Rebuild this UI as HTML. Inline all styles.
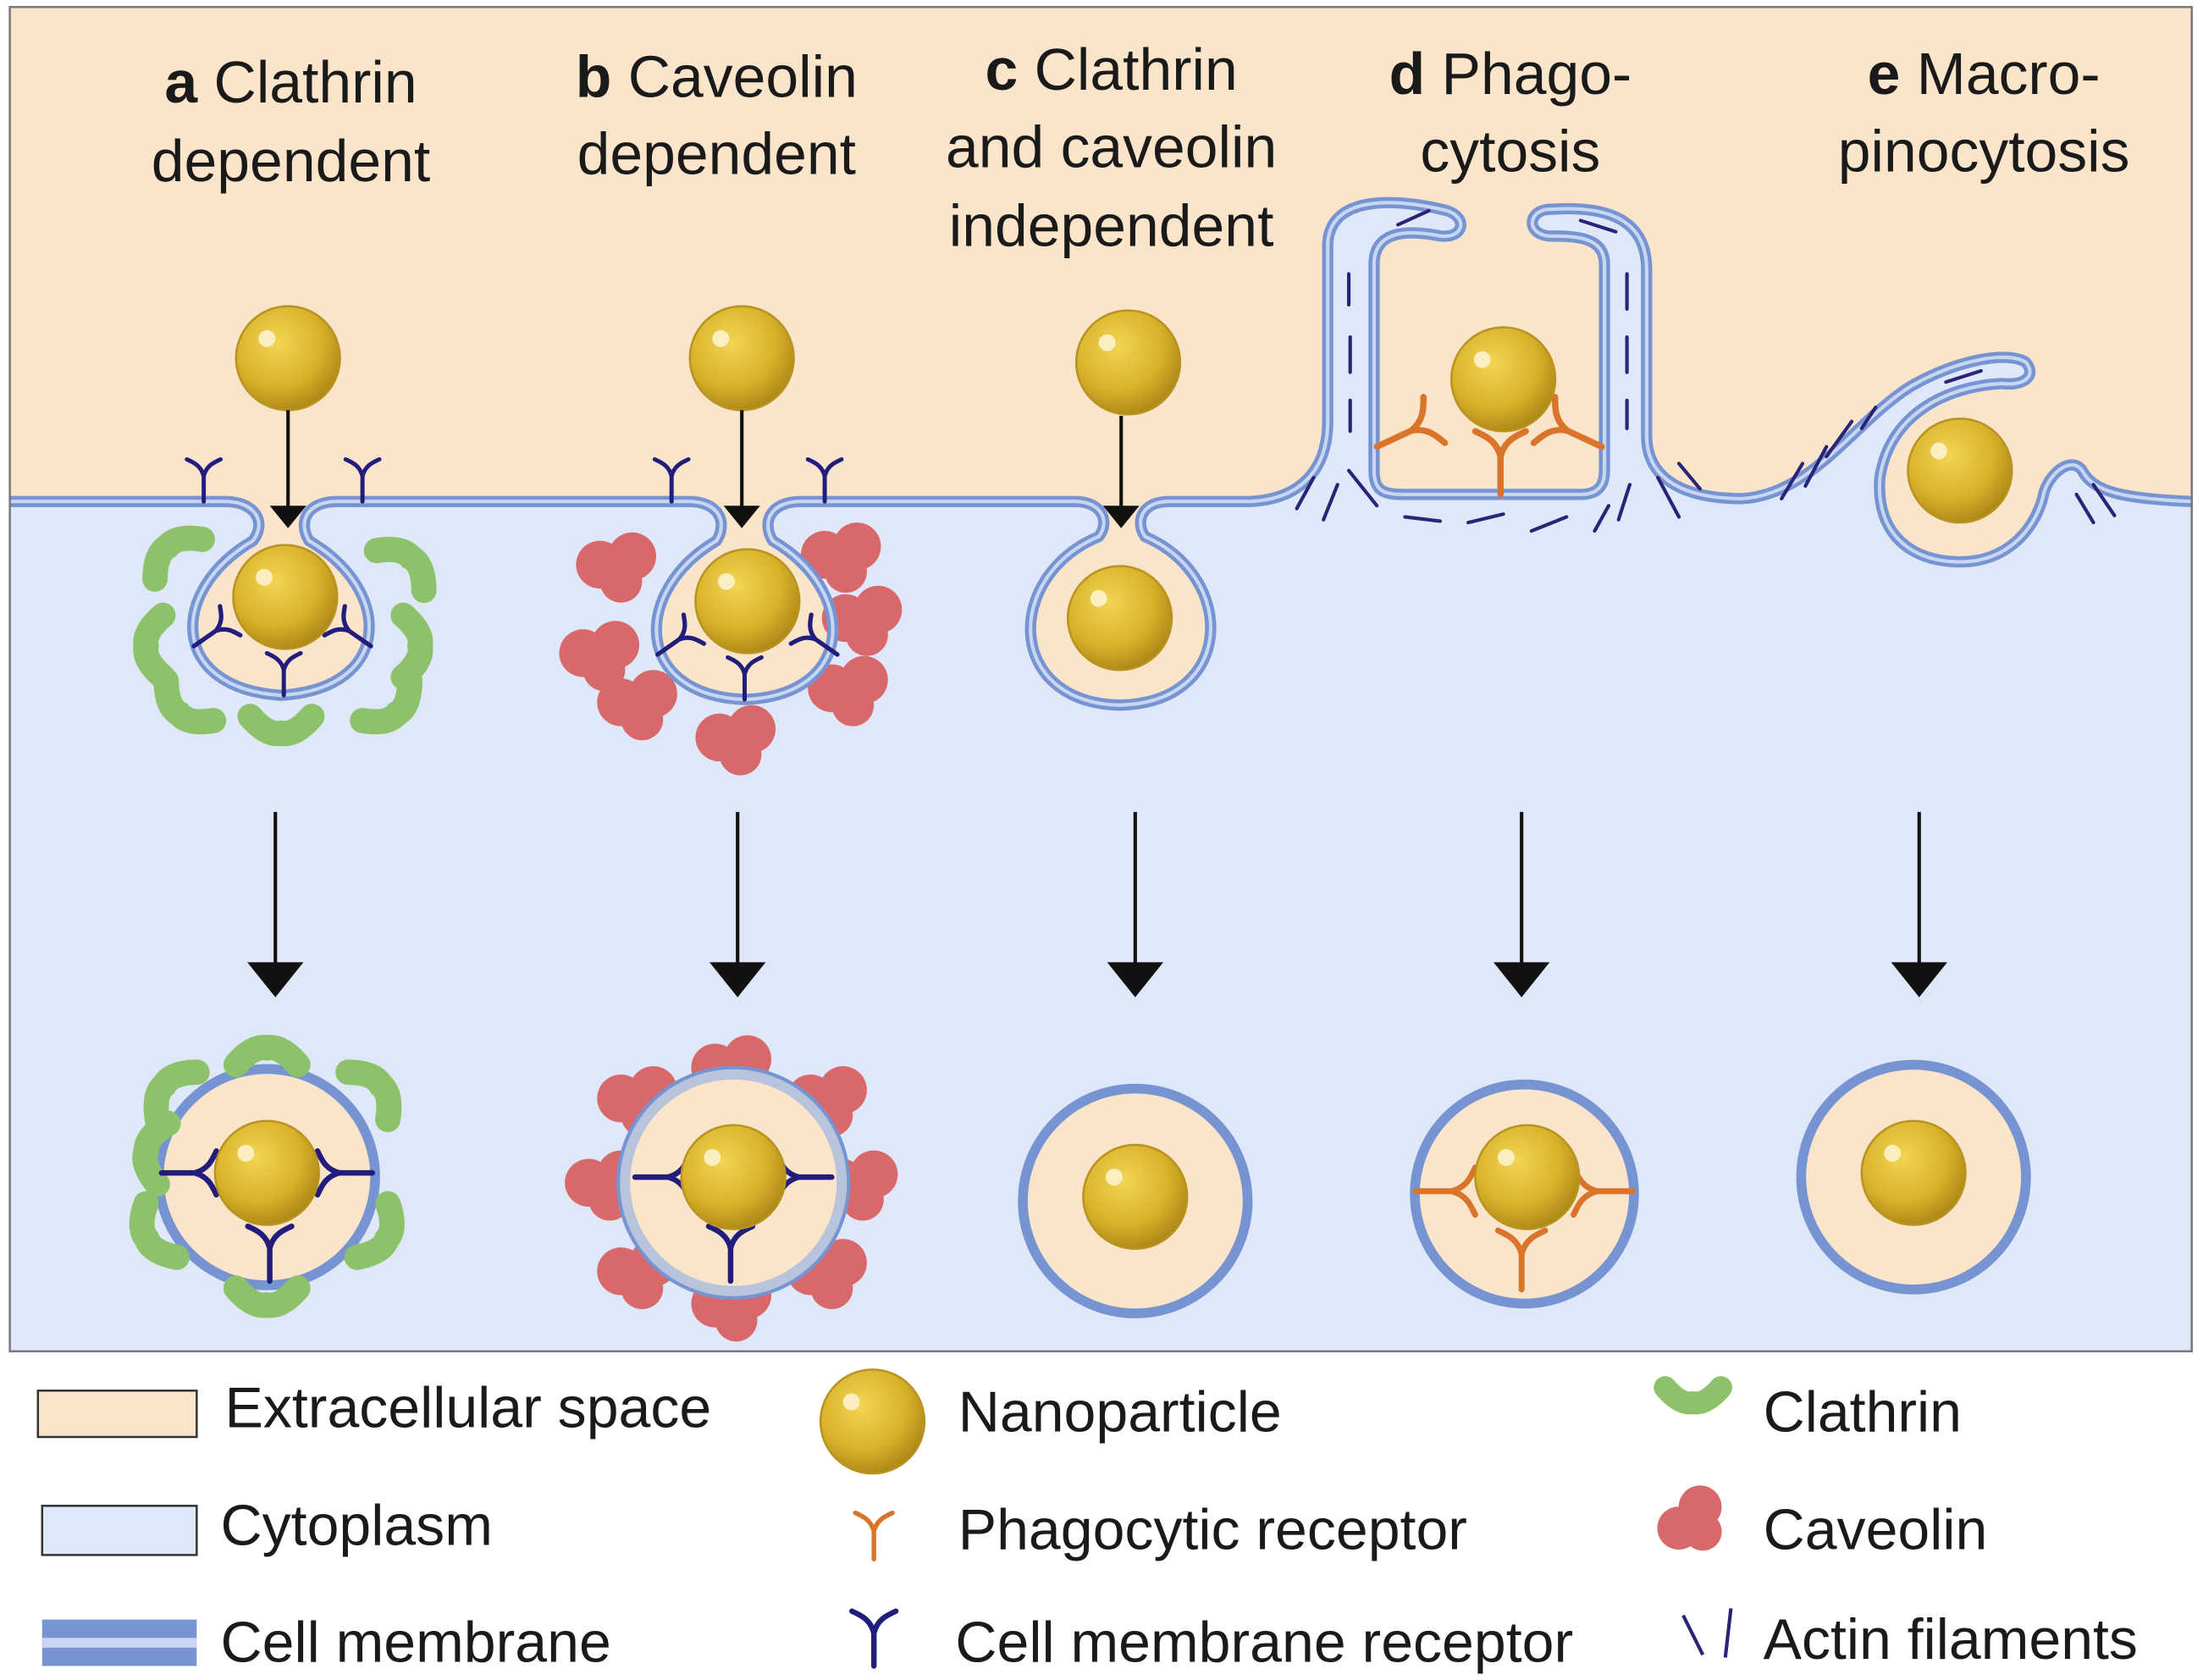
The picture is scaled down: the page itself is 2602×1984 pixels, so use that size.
<!DOCTYPE html>
<html><head><meta charset="utf-8">
<style>html,body{margin:0;padding:0;background:#fff}svg{display:block}
text{font-family:"Liberation Sans",Arial,sans-serif;fill:#1a1a1a}</style></head>
<body>
<svg width="2602" height="1984" viewBox="0 0 1568 1196" preserveAspectRatio="none" xmlns="http://www.w3.org/2000/svg">
<defs>
<radialGradient id="g" cx="0.4" cy="0.35" r="0.7">
<stop offset="0" stop-color="#f2d552"/><stop offset="0.6" stop-color="#d9b22a"/><stop offset="1" stop-color="#a88315"/></radialGradient>
<g id="np"><circle r="37" fill="url(#g)" stroke="#b89320" stroke-width="1.5"/><circle cx="-15" cy="-14" r="6" fill="#fbeec0"/></g>
<g id="ry"><path d="M0,0 V-18 M0,-18 C-2,-26 -8,-28 -12,-30 M0,-18 C2,-26 8,-28 12,-30" fill="none" stroke="#221c7c" stroke-width="3" stroke-linecap="round"/></g>
<g id="oy"><path d="M0,0 V-18 M0,-18 C-2,-26 -8,-28 -12,-30 M0,-18 C2,-26 8,-28 12,-30" fill="none" stroke="#d9742a" stroke-width="3" stroke-linecap="round"/></g>
<g id="cl"><path d="M-22,-8 Q-10,6 0,4 Q10,6 22,-8" fill="none" stroke="#8dc26a" stroke-width="18" stroke-linecap="round"/></g>
<g id="cv"><circle cx="-13" cy="0" r="17" fill="#d8686a"/><circle cx="10" cy="-6" r="17" fill="#d8686a"/><circle cx="2" cy="12" r="15" fill="#d8686a"/></g>
<g id="ah"><path d="M-20,0 L20,0 L0,25 Z" fill="#111"/></g>
</defs>
<rect x="7" y="5" width="1553" height="957" fill="#fae5ca"/>
<!-- cytoplasm -->
<path d="M7,357 L160,357 C182,357 190,372 180,385 C120,420 120,490 200,495 C280,490 280,420 220,385 C212,372 218,357 240,357 L490,357 C512,357 518,372 510,385 C450,420 450,495 530,498 C610,495 610,420 550,385 C542,372 548,357 570,357 L765,357 C785,357 790,372 782,382 C715,410 715,500 797,502 C880,500 880,410 815,382 C808,372 812,357 832,357 L890,357 C930,355 945,330 945,300 L945,175 C945,140 990,140 1030,150 C1045,155 1042,170 1025,168 C1000,163 978,165 978,188 L978,335 C978,350 985,352 1000,352 L1125,352 C1138,352 1142,345 1142,335 L1142,188 C1142,168 1120,168 1102,168 C1085,166 1088,148 1105,149 C1150,146 1172,160 1172,192 L1172,310 C1172,345 1205,355 1240,355 C1290,352 1320,300 1360,275 C1395,255 1430,250 1442,258 C1450,268 1440,275 1425,273 C1385,275 1345,295 1338,340 C1335,380 1360,400 1395,400 C1430,400 1450,375 1455,350 C1460,335 1475,325 1482,335 C1490,350 1510,355 1560,357 L1560,962 L7,962 Z" fill="#dfe8f9"/>
<!-- clathrin around pit a -->
<g>
<use href="#cl" transform="translate(122,392) rotate(140)"/><use href="#cl" transform="translate(108,460) rotate(90)"/>
<use href="#cl" transform="translate(130,505) rotate(40)"/><use href="#cl" transform="translate(200,518)"/>
<use href="#cl" transform="translate(280,505) rotate(-40)"/><use href="#cl" transform="translate(295,460) rotate(-90)"/>
<use href="#cl" transform="translate(290,400) rotate(-140)"/></g>
<g>
<use href="#cv" transform="translate(440,402)"/><use href="#cv" transform="translate(428,465)"/>
<use href="#cv" transform="translate(455,500)"/><use href="#cv" transform="translate(525,525)"/>
<use href="#cv" transform="translate(605,490)"/><use href="#cv" transform="translate(615,440)"/>
<use href="#cv" transform="translate(600,395)"/></g>
<g fill="none" stroke-linejoin="round">
<path d="M7,357 L160,357 C182,357 190,372 180,385 C120,420 120,490 200,495 C280,490 280,420 220,385 C212,372 218,357 240,357 L490,357 C512,357 518,372 510,385 C450,420 450,495 530,498 C610,495 610,420 550,385 C542,372 548,357 570,357 L765,357 C785,357 790,372 782,382 C715,410 715,500 797,502 C880,500 880,410 815,382 C808,372 812,357 832,357 L890,357 C930,355 945,330 945,300 L945,175 C945,140 990,140 1030,150 C1045,155 1042,170 1025,168 C1000,163 978,165 978,188 L978,335 C978,350 985,352 1000,352 L1125,352 C1138,352 1142,345 1142,335 L1142,188 C1142,168 1120,168 1102,168 C1085,166 1088,148 1105,149 C1150,146 1172,160 1172,192 L1172,310 C1172,345 1205,355 1240,355 C1290,352 1320,300 1360,275 C1395,255 1430,250 1442,258 C1450,268 1440,275 1425,273 C1385,275 1345,295 1338,340 C1335,380 1360,400 1395,400 C1430,400 1450,375 1455,350 C1460,335 1475,325 1482,335 C1490,350 1510,355 1560,357" stroke="#7693d2" stroke-width="8"/>
<path d="M7,357 L160,357 C182,357 190,372 180,385 C120,420 120,490 200,495 C280,490 280,420 220,385 C212,372 218,357 240,357 L490,357 C512,357 518,372 510,385 C450,420 450,495 530,498 C610,495 610,420 550,385 C542,372 548,357 570,357 L765,357 C785,357 790,372 782,382 C715,410 715,500 797,502 C880,500 880,410 815,382 C808,372 812,357 832,357 L890,357 C930,355 945,330 945,300 L945,175 C945,140 990,140 1030,150 C1045,155 1042,170 1025,168 C1000,163 978,165 978,188 L978,335 C978,350 985,352 1000,352 L1125,352 C1138,352 1142,345 1142,335 L1142,188 C1142,168 1120,168 1102,168 C1085,166 1088,148 1105,149 C1150,146 1172,160 1172,192 L1172,310 C1172,345 1205,355 1240,355 C1290,352 1320,300 1360,275 C1395,255 1430,250 1442,258 C1450,268 1440,275 1425,273 C1385,275 1345,295 1338,340 C1335,380 1360,400 1395,400 C1430,400 1450,375 1455,350 C1460,335 1475,325 1482,335 C1490,350 1510,355 1560,357" stroke="#c9d6f2" stroke-width="2.5"/>
<!-- actin -->
<g stroke="#2a2478" stroke-width="2.5" stroke-linecap="round">
<path d="M960,195 v22 M961,240 v25 M961,285 v22 M1158,195 v25 M1158,240 v25 M1158,285 v20 M995,160 l22,-10 M1125,157 l25,8"/>
<path d="M935,340 l-12,22 M952,345 l-10,25 M960,335 l20,25 M1000,368 l25,3 M1045,372 l25,-6 M1090,378 l25,-10 M1145,360 l-10,18 M1160,345 l-8,25 M1180,340 l15,28 M1195,330 l15,18"/>
<path d="M1283,330 l-15,25 M1300,318 l-15,28 M1318,300 l-18,25 M1335,290 l-10,15 M1385,272 l25,-8 M1490,345 l15,22 M1478,352 l12,20"/>
</g>
<!-- bottom vesicles -->
<circle cx="190" cy="838" r="77" fill="#fae5ca" stroke="#7693d2" stroke-width="7"/>
<circle cx="808" cy="855" r="80" fill="#fae5ca" stroke="#7693d2" stroke-width="7"/>
<circle cx="1085" cy="850" r="78" fill="#fae5ca" stroke="#7693d2" stroke-width="7"/>
<circle cx="1362" cy="838" r="80" fill="#fae5ca" stroke="#7693d2" stroke-width="7"/>
</g>
<g>
<use href="#cl" transform="translate(190,750) rotate(180)"/><use href="#cl" transform="translate(120,775) rotate(130)"/>
<use href="#cl" transform="translate(268,775) rotate(-130)"/><use href="#cl" transform="translate(108,880) rotate(60)"/>
<use href="#cl" transform="translate(272,880) rotate(-60)"/><use href="#cl" transform="translate(190,925)"/>
<use href="#cl" transform="translate(108,820) rotate(100)"/></g>
<g>
<use href="#cv" transform="translate(522,760)"/><use href="#cv" transform="translate(455,782)"/><use href="#cv" transform="translate(590,782)"/>
<use href="#cv" transform="translate(432,842)"/><use href="#cv" transform="translate(612,842)"/><use href="#cv" transform="translate(455,905)"/>
<use href="#cv" transform="translate(590,905)"/><use href="#cv" transform="translate(522,928)"/></g>
<circle cx="522" cy="842" r="78" fill="#fae5ca" stroke="#b8c4dc" stroke-width="9"/>
<circle cx="522" cy="842" r="82" fill="none" stroke="#7693d2" stroke-width="2.5"/>
<!-- receptors -->
<use href="#ry" transform="translate(145,357)"/><use href="#ry" transform="translate(258,357)"/>
<use href="#ry" transform="translate(478,357)"/><use href="#ry" transform="translate(587,357)"/>
<use href="#ry" transform="translate(138,460) rotate(55) scale(1.05)"/><use href="#ry" transform="translate(264,460) rotate(-55) scale(1.05)"/><use href="#ry" transform="translate(202,495)"/>
<use href="#ry" transform="translate(468,466) rotate(55) scale(1.05)"/><use href="#ry" transform="translate(596,466) rotate(-55) scale(1.05)"/><use href="#ry" transform="translate(530,498)"/>
<use href="#ry" transform="translate(115,835) rotate(90) scale(1.3)"/><use href="#ry" transform="translate(265,835) rotate(-90) scale(1.3)"/><use href="#ry" transform="translate(192,912) scale(1.3)"/>
<use href="#ry" transform="translate(452,838) rotate(90) scale(1.3)"/><use href="#ry" transform="translate(592,838) rotate(-90) scale(1.3)"/><use href="#ry" transform="translate(520,912) scale(1.3)"/>
<use href="#oy" transform="translate(980,318) rotate(65) scale(1.5)"/><use href="#oy" transform="translate(1140,318) rotate(-65) scale(1.5)"/><use href="#oy" transform="translate(1068,352) scale(1.5)"/>
<use href="#oy" transform="translate(1008,848) rotate(90) scale(1.4)"/><use href="#oy" transform="translate(1162,848) rotate(-90) scale(1.4)"/><use href="#oy" transform="translate(1083,918) scale(1.4)"/>
<!-- particles -->
<use href="#np" x="205" y="255"/><use href="#np" x="203" y="425"/>
<use href="#np" x="528" y="255"/><use href="#np" x="532" y="428"/>
<use href="#np" x="803" y="258"/><use href="#np" x="797" y="440"/>
<use href="#np" x="1070" y="270"/><use href="#np" x="1395" y="335"/>
<use href="#np" x="190" y="835"/><use href="#np" x="522" y="838"/><use href="#np" x="808" y="852"/>
<use href="#np" x="1087" y="838"/><use href="#np" x="1362" y="835"/>
<!-- arrows -->
<g stroke="#111" stroke-width="2.5">
<path d="M205,292 V362 M528,292 V362 M798,296 V362"/>
<path d="M196,578 V688 M525,578 V688 M808,578 V688 M1083,578 V688 M1366,578 V688"/></g>
<path d="M205,376 L192,360 H218 Z M528,376 L515,360 H541 Z M798,376 L785,360 H811 Z" fill="#111"/>
<use href="#ah" x="196" y="685"/><use href="#ah" x="525" y="685"/><use href="#ah" x="808" y="685"/><use href="#ah" x="1083" y="685"/><use href="#ah" x="1366" y="685"/>
<rect x="7" y="5" width="1553" height="957" fill="none" stroke="#777" stroke-width="1.5"/>
<!-- labels -->
<g font-size="42" text-anchor="middle">
<text x="207" y="73"><tspan font-weight="bold">a</tspan> Clathrin</text><text x="207" y="129">dependent</text>
<text x="510" y="69"><tspan font-weight="bold">b</tspan> Caveolin</text><text x="510" y="124">dependent</text>
<text x="791" y="64"><tspan font-weight="bold">c</tspan> Clathrin</text><text x="791" y="119">and caveolin</text><text x="791" y="175">independent</text>
<text x="1075" y="67"><tspan font-weight="bold">d</tspan> Phago-</text><text x="1075" y="122">cytosis</text>
<text x="1412" y="67"><tspan font-weight="bold">e</tspan> Macro-</text><text x="1412" y="122">pinocytosis</text>
</g>
<!-- legend -->
<rect x="27" y="990" width="113" height="33" fill="#fae5ca" stroke="#333" stroke-width="1.5"/>
<rect x="30" y="1072" width="110" height="35" fill="#dfe8f9" stroke="#333" stroke-width="1.5"/>
<rect x="30" y="1153" width="110" height="33" fill="#7693d2"/>
<rect x="30" y="1166" width="110" height="7" fill="#c9d6f2"/>
<g font-size="41">
<text x="160" y="1016">Extracellular space</text>
<text x="157" y="1100">Cytoplasm</text>
<text x="157" y="1183">Cell membrane</text>
<text x="682" y="1019">Nanoparticle</text>
<text x="682" y="1103">Phagocytic receptor</text>
<text x="680" y="1183">Cell membrane receptor</text>
<text x="1255" y="1019">Clathrin</text>
<text x="1255" y="1103">Caveolin</text>
<text x="1255" y="1181">Actin filaments</text>
</g>
<use href="#np" x="621" y="1012"/>
<use href="#oy" transform="translate(622,1110) scale(1.1)"/>
<use href="#ry" transform="translate(622,1186) scale(1.3)"/>
<use href="#cl" transform="translate(1205,995) scale(0.9)"/>
<use href="#cv" transform="translate(1205,1082) rotate(-30) scale(0.9)"/>
<path d="M1198,1150 L1212,1178 M1232,1145 L1228,1180" stroke="#2a2478" stroke-width="2.5"/>
</svg>
</body></html>
